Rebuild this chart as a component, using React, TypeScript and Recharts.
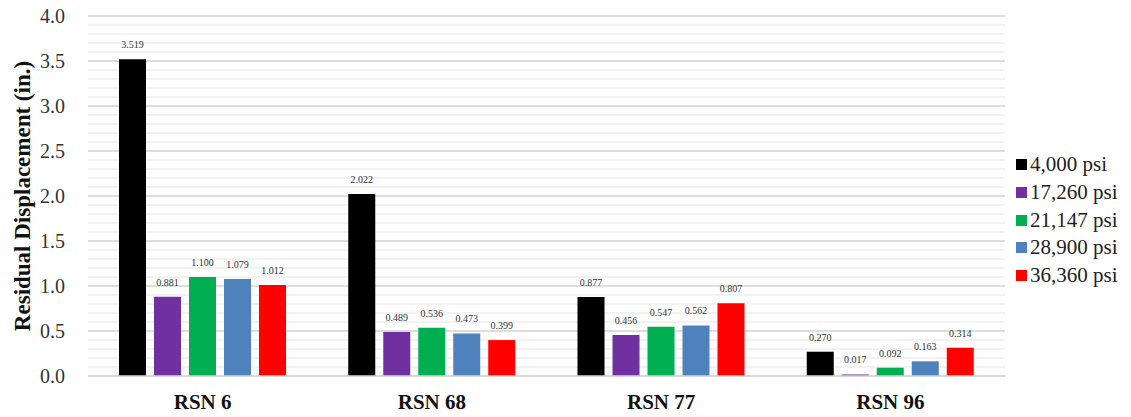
import React from 'react';
import {
  BarChart, Bar, XAxis, YAxis, CartesianGrid, LabelList
} from 'recharts';

const categories = ['RSN 6', 'RSN 68', 'RSN 77', 'RSN 96'];
const psi4000 = [3.519, 2.022, 0.877, 0.270];
const psi17260 = [0.881, 0.489, 0.456, 0.017];
const psi21147 = [1.100, 0.536, 0.547, 0.092];
const psi28900 = [1.079, 0.473, 0.562, 0.163];
const psi36360 = [1.012, 0.399, 0.807, 0.314];
const yTicks = [0, 0.5, 1.0, 1.5, 2.0, 2.5, 3.0, 3.5, 4.0];
const Y_MAX = 4;

const SERIES = [
  { key: 'p4000', name: '4,000 psi', values: psi4000, color: '#000000' },
  { key: 'p17260', name: '17,260 psi', values: psi17260, color: '#7030A0' },
  { key: 'p21147', name: '21,147 psi', values: psi21147, color: '#00B050' },
  { key: 'p28900', name: '28,900 psi', values: psi28900, color: '#4F81BD' },
  { key: 'p36360', name: '36,360 psi', values: psi36360, color: '#FF0000' },
];

const data = categories.map((name, i) => {
  const row: any = { name };
  SERIES.forEach(s => { row[s.key] = s.values[i]; });
  return row;
});

// minor gridlines every 0.1
const minorTicks = Array.from({ length: 41 }, (_, i) => i / 10);

const minorGridLines = (props: any) => {
  const { yAxis, offset } = props;
  const sc = yAxis && typeof yAxis.scale === 'function' ? yAxis.scale : null;
  if (sc) return minorTicks.map(v => sc(v));
  const top = offset?.top ?? 16;
  const h = offset?.height ?? 360;
  return minorTicks.map(v => top + h * (1 - v / Y_MAX));
};

const FONT = '"Liberation Serif", "Times New Roman", Times, "DejaVu Serif", serif';

const LegendBox = () => (
  <div style={{ position: 'absolute', left: 1016, top: 151, fontFamily: FONT, fontSize: 21, color: '#222' }}>
    {SERIES.map(s => (
      <div key={s.key} style={{ display: 'flex', alignItems: 'center', height: 27.7, whiteSpace: 'nowrap' }}>
        <span style={{ width: 11, height: 11, background: s.color, display: 'inline-block', marginRight: 3 }} />
        <span>{s.name}</span>
      </div>
    ))}
  </div>
);

export default function App() {
  return (
    <div style={{ position: 'absolute', left: 0, top: 0, width: 1131, height: 417, background: '#fff', fontFamily: FONT }}>
      <style>{`.recharts-text, .recharts-label { font-family: ${FONT} !important; }`}</style>
      <BarChart
        width={1131}
        height={417}
        data={data}
        margin={{ top: 16, right: 126, left: 0, bottom: 0 }}
        barCategoryGap={28}
        barGap={8}
      >
        <CartesianGrid
          vertical={false}
          stroke="#eeeeee"
          strokeWidth={1.5}
          horizontalCoordinatesGenerator={minorGridLines}
        />
        <CartesianGrid vertical={false} stroke="#d6d6d6" strokeWidth={1.5} />
        <XAxis
          dataKey="name"
          axisLine={{ stroke: '#d6d6d6', strokeWidth: 1.5 }}
          tickLine={false}
          tickMargin={12}
          height={41}
          tick={{ fontFamily: FONT, fontSize: 21, fontWeight: 'bold', fill: '#111' }}
        />
        <YAxis
          domain={[0, Y_MAX]}
          ticks={yTicks}
          width={88}
          axisLine={false}
          tickLine={false}
          tickSize={0}
          tickMargin={23}
          tickFormatter={(v: number) => v.toFixed(1)}
          tick={{ fontFamily: FONT, fontSize: 20, fill: '#333' }}
          label={{
            value: 'Residual Displacement (in.)',
            angle: -90,
            position: 'insideLeft',
            dx: 17,
            style: { fontFamily: FONT, fontSize: 23, fontWeight: 'bold', fill: '#111', textAnchor: 'middle' },
          }}
        />
        {SERIES.map(s => (
          <Bar key={s.key} dataKey={s.key} name={s.name} fill={s.color} barSize={27} isAnimationActive={false}>
            <LabelList
              dataKey={s.key}
              position="top"
              offset={11}
              formatter={(v: any) => Number(v).toFixed(3)}
              style={{ fontFamily: FONT, fontSize: 10, fill: '#333' }}
            />
          </Bar>
        ))}
      </BarChart>
      <LegendBox />
    </div>
  );
}
